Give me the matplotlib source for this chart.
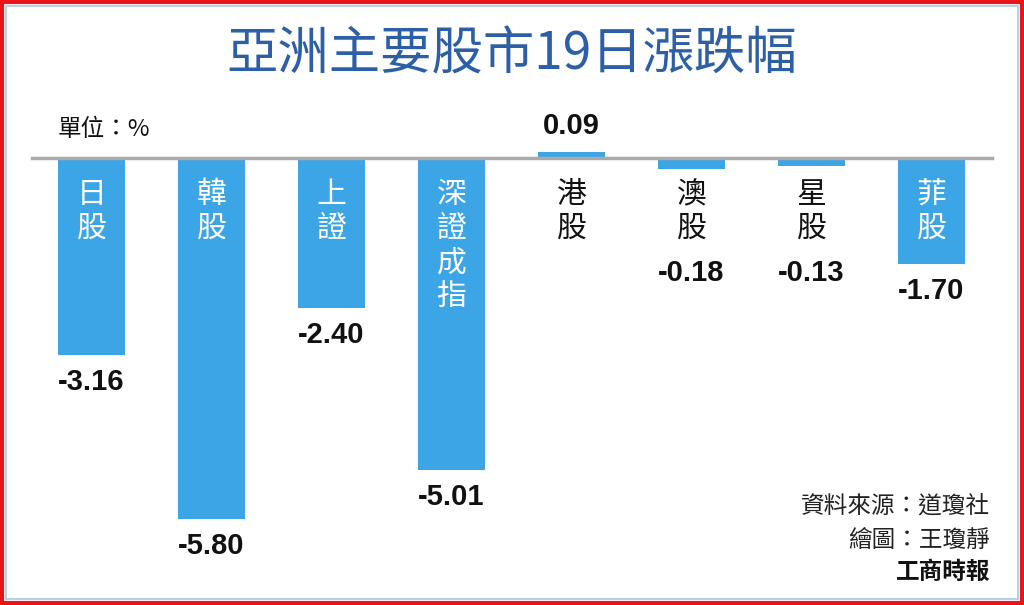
import matplotlib.pyplot as plt
from matplotlib.patches import Rectangle

plt.rcParams['font.family'] = ['Noto Sans CJK TC', 'DejaVu Sans']

markets = ['日股', '韓股', '上證', '深證成指', '港股', '澳股', '星股', '菲股']
changes = [-3.16, -5.80, -2.40, -5.01, 0.09, -0.18, -0.13, -1.70]
title = '亞洲主要股市19日漲跌幅'
unit = '單位：%'
source = '資料來源：道瓊社'
artist = '繪圖：王瓊靜'
paper = '工商時報'

bar_color = '#3ca5e6'
W, H = 1024, 605
px_per_unit = 62.3
base_px = 158

fig = plt.figure(figsize=(W / 100, H / 100), dpi=100)
ax = fig.add_axes([0, 0, 1, 1])
ax.set_xlim(-91.5 / 120, (W - 91.5) / 120)
ax.set_ylim(-(H - base_px) / px_per_unit, base_px / px_per_unit)
ax.axis('off')

x = list(range(len(markets)))
ax.bar(x, changes, width=67 / 120, color=bar_color, zorder=2)
ax.plot([-0.5, 7.5], [0, 0], color='#aaaaaa', lw=2.5, zorder=3)

u = 1 / px_per_unit  # one pixel in data units
num_kw = dict(color='#111111', fontsize=21, fontweight='bold', ha='center',
              family=['Liberation Sans', 'DejaVu Sans'], zorder=4)
for i, (name, v) in enumerate(zip(markets, changes)):
    label = '\n'.join(name)
    inside = v < -1
    ax.text(i, -21 * u, label, color='white' if inside else '#111111',
            fontsize=21.5, ha='center', va='top', linespacing=1.13, zorder=4)
    if inside:
        ax.text(i, v - 13 * u, f'{v:.2f}', va='top', **num_kw)
    elif v > 0:
        ax.text(i, v + 12 * u, f'{v:.2f}', va='bottom', **num_kw)
    else:
        ax.text(i, -101 * u, f'{v:.2f}', va='top', **num_kw)

fig.text(512 / W, 1 - 55 / H, title, color='#2d5fa6', fontsize=37,
         fontweight='medium', ha='center', va='center')
fig.text(58 / W, 1 - 130 / H, unit, color='#111111', fontsize=17,
         ha='left', va='center')
fig.text(990 / W, 1 - 507 / H, source, color='#222222', fontsize=17,
         ha='right', va='center')
fig.text(990 / W, 1 - 540 / H, artist, color='#222222', fontsize=17,
         ha='right', va='center')
fig.text(990 / W, 1 - 572 / H, paper, color='#111111', fontsize=17,
         fontweight='bold', ha='right', va='center')

fig.patches.append(Rectangle((0.002, 0.003), 0.996, 0.994, transform=fig.transFigure,
                             fill=False, edgecolor='#e8141c', lw=3))
fig.patches.append(Rectangle((6 / W, 6 / H), 1 - 12 / W, 1 - 12 / H,
                             transform=fig.transFigure, fill=False,
                             edgecolor='#a9c8e6', lw=1.2))

fig.savefig('out.png', dpi=100)
